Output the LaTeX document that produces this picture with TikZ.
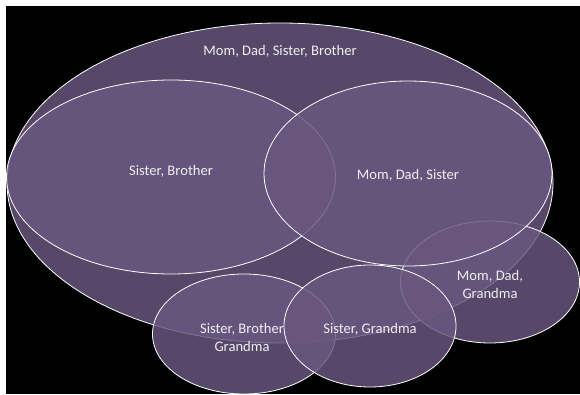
\documentclass[tikz,border=0pt]{standalone}
\usepackage{fontspec}
\setmainfont{Carlito}
\usetikzlibrary{shapes.geometric,positioning}
\definecolor{vennfill}{RGB}{105,87,128}
\tikzset{
  venn/.style={ellipse, draw=white, line width=0.8pt, fill=vennfill, fill opacity=0.83, inner sep=0pt},
  vlabel/.style={text=white!90!vennfill, font=\fontsize{14.6}{18}\selectfont, align=center}
}

\begin{document}
\begin{tikzpicture}[x=1pt,y=-1pt]
        \useasboundingbox (0,0) rectangle (580,395);
        \fill[white] (0,0) rectangle (580,395);
        \fill[black] (6,6) rectangle (580,394);
        % sets, back to front
        \node[venn, minimum width=546pt, minimum height=320pt] (all) at (280,183) {};
        \node[venn, minimum width=329pt, minimum height=194pt] (sb) at (171,177) {};
        \node[venn, minimum width=179pt, minimum height=122pt] (mdg) at (490,282) {};
        \node[venn, minimum width=288pt, minimum height=185pt] (mds) at (408,173.5) {};
        \node[venn, minimum width=183pt, minimum height=120pt] (sbg) at (244,334) {};
        \node[venn, minimum width=172pt, minimum height=122pt] (sg) at (370,326) {};
        % labels
        \node[vlabel] (alltxt) at ([yshift=-29pt]all.north) {Mom, Dad, Sister, Brother};
        \node[vlabel] (sbtxt) at ([yshift=6pt]sb.center) {Sister, Brother};
        \node[vlabel] (mdstxt) at ([yshift=-1.5pt]mds.center) {Mom, Dad, Sister};
        \node[vlabel] (mdgtxt) at ([yshift=-2pt]mdg.center) {Mom, Dad,\\Grandma};
        \node[vlabel] (sbgtxt) at ([xshift=-2pt,yshift=-3pt]sbg.center) {Sister, Brother\\Grandma};
        \node[vlabel] (sgtxt) at ([yshift=-3pt]sg.center) {Sister, Grandma};
    \end{tikzpicture}
\end{document}
